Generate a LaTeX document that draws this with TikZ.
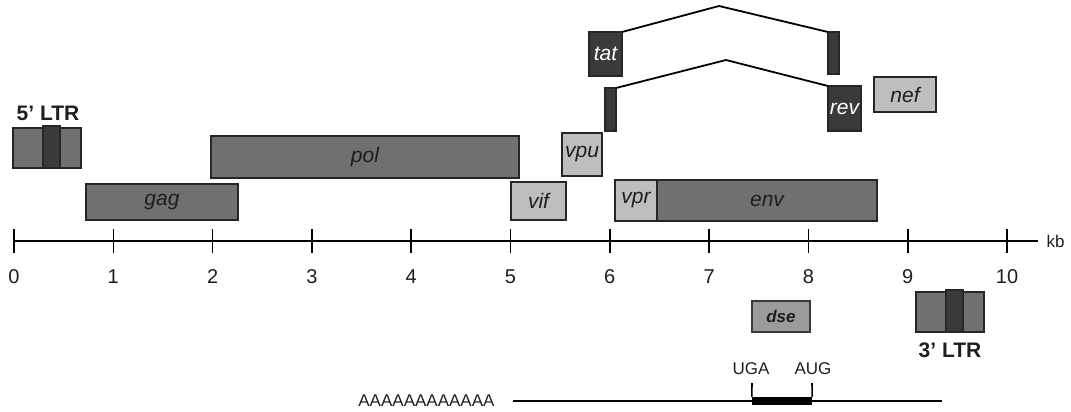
\documentclass[tikz,border=0pt]{standalone}
\usepackage{fontspec}
\setmainfont{Liberation Sans}
\definecolor{midgray}{RGB}{112,112,112}
\definecolor{lightgray}{RGB}{190,190,190}
\definecolor{darkgray}{RGB}{58,58,58}
\definecolor{dsegray}{RGB}{155,155,155}
\definecolor{inkgray}{RGB}{30,30,30}
\begin{document}
\begin{tikzpicture}[x=1pt,y=-1pt,
  box/.style={draw=black!85,line width=1.8pt,inner sep=0pt,outer sep=0pt,
    font=\fontsize{21}{23}\selectfont\itshape,text=inkgray},
  midbox/.style={box,fill=midgray},
  lightbox/.style={box,fill=lightgray},
  darkbox/.style={box,fill=darkgray,text=white},
  splice/.style={line width=1.8pt},
  axisline/.style={line width=1.6pt},
  ticklabel/.style={font=\fontsize{20}{22}\selectfont,text=inkgray},
  ltrlabel/.style={font=\fontsize{21}{23}\selectfont\bfseries,text=inkgray},
  codon/.style={font=\fontsize{17}{19}\selectfont,text=inkgray}]
\useasboundingbox (0,0) rectangle (1071,412);

% 5' LTR
\node[midbox,minimum width=68pt,minimum height=40pt] (ltr5) at (47,148) {};
\node[darkbox,minimum width=17pt,minimum height=42pt] (ltr5u) at (51.5,147) {};
\node[ltrlabel] (ltr5lab) at (48,113) {5' LTR};

% structural genes
\node[midbox,minimum width=152pt,minimum height=36pt] (gag) at (162,202) {gag};
\node[midbox,minimum width=308pt,minimum height=42pt] (pol) at (365,157) {pol};
\node[midbox,minimum width=220pt,minimum height=41pt] (env) at (767,200.5) {env};

% accessory genes
\node[lightbox,minimum width=55pt,minimum height=38pt] (vif) at (538.5,201) {vif};
\node[lightbox,minimum width=40pt,minimum height=43pt] (vpu) at (582,154.5) {vpu};
\node[lightbox,minimum width=42pt,minimum height=41pt] (vpr) at (636,200.5) {vpr};
\node[lightbox,minimum width=62pt,minimum height=35pt] (nef) at (905,94.5) {nef};

% spliced regulatory genes
\node[darkbox,minimum width=33pt,minimum height=44pt] (tat) at (605.5,54) {tat};
\node[darkbox,minimum width=11pt,minimum height=42pt] (tatb) at (833.5,53) {};
\node[darkbox,minimum width=11pt,minimum height=43pt] (reva) at (610.5,109.5) {};
\node[darkbox,minimum width=33pt,minimum height=45pt] (rev) at (844.5,108.5) {rev};
\coordinate (tatapex) at (719,6);
\coordinate (revapex) at (726,60);
\draw[splice] (tat.north east) -- (tatapex) -- (tatb.north west);
\draw[splice] (reva.north east) -- (revapex) -- (rev.north west);

% kb scale
\coordinate (axstart) at (14,241);
\coordinate (axend) at (1038,241);
\draw[axisline] (axstart) -- (axend);
\foreach \k in {0,...,10} {
  \coordinate (t\k) at ({14+99.3*\k},241);
  \draw[axisline] ([yshift=-12pt]t\k) -- ([yshift=12pt]t\k);
  \node[ticklabel] (tl\k) at ([yshift=-36pt]t\k) {\k};
}
\node[ticklabel,font=\fontsize{17}{19}\selectfont,anchor=west] (kb) at ([xshift=5pt]axend) {kb};

% dse element
\node[box,fill=dsegray,draw=darkgray,line width=1.3pt,minimum width=58pt,minimum height=31pt,
  font=\fontsize{17}{19}\selectfont\bfseries\itshape,text=inkgray] (dse) at (781,316.5) {dse};

% 3' LTR
\node[midbox,minimum width=68pt,minimum height=40pt] (ltr3) at (950,312) {};
\node[darkbox,minimum width=17pt,minimum height=42pt] (ltr3u) at (954.5,311) {};
\node[ltrlabel] (ltr3lab) at (950,350) {3' LTR};

% transcript with poly(A) tail
\coordinate (rnastart) at (513,401);
\coordinate (rnaend) at (942,401);
\node[codon,anchor=east] (polya) at (498,401) {AAAAAAAAAAAA};
\draw[line width=1.6pt] (rnastart) -- (rnaend);
\node[fill=black,inner sep=0pt,minimum width=60pt,minimum height=8pt] (orf) at (782,401) {};
\coordinate (uga) at (752,383);
\coordinate (aug) at (812,383);
\draw[line width=1.6pt] (uga) -- (orf.north west);
\draw[line width=1.6pt] (aug) -- (orf.north east);
\node[codon] (ugalab) at (751,369) {UGA};
\node[codon] (auglab) at (813,369) {AUG};
\end{tikzpicture}
\end{document}
